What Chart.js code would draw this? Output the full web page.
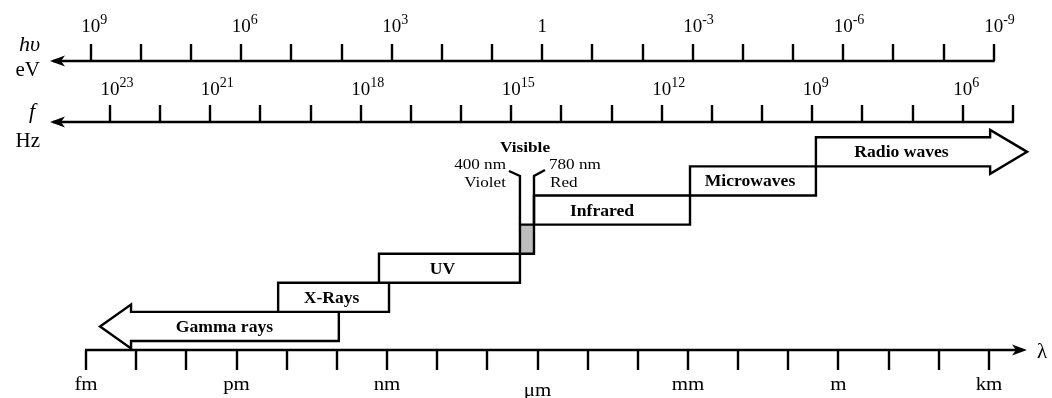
<!DOCTYPE html>
<html><head><meta charset="utf-8">
<script src="https://cdn.jsdelivr.net/npm/chart.js@4.4.1/dist/chart.umd.min.js"></script>
<style>html,body{margin:0;padding:0;background:#fff;}#wrap{width:1052px;height:398px;}</style>
</head><body><div id="wrap"><canvas id="c" width="1052" height="398"></canvas></div>
<script>
// ---------------- data ----------------
const bandNames  = ['Gamma rays', 'X-Rays', 'UV', 'Visible', 'Infrared', 'Microwaves', 'Radio waves'];
const bandLevel  = [0, 1, 2, 3, 4, 5, 6];
// log10(wavelength / m) at the short and long end of each band
const bandFrom   = [-14.72, -11.17, -9.16, -6.35, -6.07, -2.96, -0.45];
const bandTo     = [ -9.96,  -8.96, -6.35, -6.07, -2.96, -0.45,  3.76];
const bandOpen   = ['left', null, null, null, null, null, 'right']; // open-ended bands drawn as arrows
const bandShaded = [false, false, false, true, false, false, false];

const visibleEdgeText = [['400 nm', 'Violet'], ['780 nm', 'Red']];
const visibleTitle = 'Visible';

// wavelength axis (log10 m)
const lambdaTickExp  = [-15,-14,-13,-12,-11,-10,-9,-8,-7,-6,-5,-4,-3,-2,-1,0,1,2,3];
const lambdaLabelExp = [-15, -12, -9, -6, -3, 0, 3];
const lambdaLabels   = ['fm', 'pm', 'nm', 'μm', 'mm', 'm', 'km'];
// photon energy axis (log10 eV)
const energyTickExp  = [9,8,7,6,5,4,3,2,1,0,-1,-2,-3,-4,-5,-6,-7,-8,-9];
const energyLabelExp = [9, 6, 3, 0, -3, -6, -9];
// frequency axis (log10 Hz)
const freqTickExp    = [23,22,21,20,19,18,17,16,15,14,13,12,11,10,9,8,7,6,5];
const freqLabelExp   = [23, 21, 18, 15, 12, 9, 6];

const LOG_HC_EV_M = Math.log10(1.23984e-6);   // lambda = hc / E
const LOG_C_M_S   = Math.log10(2.99792458e8); // lambda = c / f

// ---------------- style / layout ----------------
const SERIF = '"Liberation Serif", "DejaVu Serif", serif';
const labelShiftPx = [5, -2, -7, 0, -10, -3, -20];
const arrowHeadLen = [31, 0, 0, 0, 0, 0, 37];
const arrowHalfH = 22;
const EV_AXIS_Y = 61, F_AXIS_Y = 122, L_AXIS_Y = 350;
const AXIS_ARROW_X = 50, L_ARROW_X = 1027;
const TICK_UP = 17, TICK_DOWN = 20;
const LEADER_TOP = 176;
const LINE_W = 2.4;

function txt(ctx, s, x, y, font, align, sx) {
  ctx.save();
  ctx.font = font; ctx.textAlign = align || 'center'; ctx.textBaseline = 'alphabetic';
  ctx.fillStyle = '#000';
  ctx.translate(x, y); ctx.scale(sx || 1, 1);
  ctx.fillText(s, 0, 0);
  ctx.restore();
}
function powLabel(ctx, exp, x, y) {
  if (exp === 0) { txt(ctx, '1', x, y, '19px ' + SERIF, 'center'); return; }
  ctx.save();
  ctx.font = '19px ' + SERIF;
  const w = ctx.measureText('10').width;
  ctx.restore();
  txt(ctx, '10', x, y, '19px ' + SERIF, 'center');
  txt(ctx, String(exp), x + w / 2, y - 8, '14px ' + SERIF, 'left');
}
function arrowHead(ctx, tipX, y, dir) {
  // dir = -1 points left, +1 points right
  ctx.beginPath();
  ctx.moveTo(tipX, y);
  ctx.lineTo(tipX - dir * 15, y - 5.5);
  ctx.lineTo(tipX - dir * 11, y);
  ctx.lineTo(tipX - dir * 15, y + 5.5);
  ctx.closePath();
  ctx.fill();
}

const spectrumPlugin = {
  id: 'spectrum',
  afterDraw(chart) {
    const ctx = chart.ctx;
    const xs = chart.scales.x, ys = chart.scales.y;
    const X = v => xs.getPixelForValue(v);
    const Y = v => ys.getPixelForValue(v);
    ctx.save();
    ctx.fillStyle = '#000'; ctx.strokeStyle = '#000';
    ctx.lineCap = 'butt'; ctx.lineJoin = 'miter';
    ctx.lineWidth = LINE_W;

    // ---- photon energy axis ----
    const eX = e => X(LOG_HC_EV_M - e);
    ctx.beginPath();
    ctx.moveTo(AXIS_ARROW_X + 3, EV_AXIS_Y);
    ctx.lineTo(eX(energyTickExp[energyTickExp.length - 1]) + 1, EV_AXIS_Y);
    ctx.stroke();
    arrowHead(ctx, AXIS_ARROW_X, EV_AXIS_Y, -1);
    energyTickExp.forEach(e => {
      const x = Math.round(eX(e));
      ctx.beginPath(); ctx.moveTo(x, EV_AXIS_Y - TICK_UP); ctx.lineTo(x, EV_AXIS_Y); ctx.stroke();
    });
    energyLabelExp.forEach(e => powLabel(ctx, e, eX(e), 32));

    // ---- frequency axis ----
    const fX = f => X(LOG_C_M_S - f);
    ctx.beginPath();
    ctx.moveTo(AXIS_ARROW_X + 3, F_AXIS_Y);
    ctx.lineTo(fX(freqTickExp[freqTickExp.length - 1]) + 1, F_AXIS_Y);
    ctx.stroke();
    arrowHead(ctx, AXIS_ARROW_X, F_AXIS_Y, -1);
    freqTickExp.forEach(f => {
      const x = Math.round(fX(f));
      ctx.beginPath(); ctx.moveTo(x, F_AXIS_Y - TICK_UP); ctx.lineTo(x, F_AXIS_Y); ctx.stroke();
    });
    freqLabelExp.forEach(f => powLabel(ctx, f, fX(f), 95));

    // axis names on the left
    txt(ctx, 'hυ', 40, 51, 'italic 20px ' + SERIF, 'right', 1.1);
    txt(ctx, 'eV', 40, 76, '20px ' + SERIF, 'right', 1.05);
    txt(ctx, 'f', 35, 118, 'italic 20px ' + SERIF, 'right', 1.1);
    txt(ctx, 'Hz', 40, 147, '20px ' + SERIF, 'right', 1.05);

    // ---- wavelength axis ----
    ctx.beginPath();
    ctx.moveTo(X(lambdaTickExp[0]) - 1, L_AXIS_Y);
    ctx.lineTo(L_ARROW_X - 5, L_AXIS_Y);
    ctx.stroke();
    arrowHead(ctx, L_ARROW_X, L_AXIS_Y, 1);
    lambdaTickExp.forEach(l => {
      const x = Math.round(X(l));
      ctx.beginPath(); ctx.moveTo(x, L_AXIS_Y); ctx.lineTo(x, L_AXIS_Y + TICK_DOWN); ctx.stroke();
    });
    lambdaLabelExp.forEach((l, i) => {
      const s = lambdaLabels[i];
      txt(ctx, s, X(l), s === 'μm' ? 396 : 390, '19px ' + SERIF, 'center', 1.1);
    });
    txt(ctx, 'λ', 1037, 358, '21px ' + SERIF, 'left');

    // ---- bands ----
    bandNames.forEach((name, i) => {
      const x0 = X(bandFrom[i]), x1 = X(bandTo[i]);
      const yTop = Y(bandLevel[i] + 1), yBot = Y(bandLevel[i]);
      const yc = (yTop + yBot) / 2;
      ctx.beginPath();
      if (bandOpen[i] === 'left') {
        const hb = x0 + arrowHeadLen[i];
        ctx.moveTo(x0, yc);
        ctx.lineTo(hb, yc - arrowHalfH);
        ctx.lineTo(hb, yTop);
        ctx.lineTo(x1, yTop);
        ctx.lineTo(x1, yBot);
        ctx.lineTo(hb, yBot);
        ctx.lineTo(hb, yc + arrowHalfH);
        ctx.closePath();
      } else if (bandOpen[i] === 'right') {
        const hb = x1 - arrowHeadLen[i];
        ctx.moveTo(x0, yTop);
        ctx.lineTo(hb, yTop);
        ctx.lineTo(hb, yc - arrowHalfH);
        ctx.lineTo(x1, yc);
        ctx.lineTo(hb, yc + arrowHalfH);
        ctx.lineTo(hb, yBot);
        ctx.lineTo(x0, yBot);
        ctx.closePath();
      } else {
        ctx.rect(x0, yTop, x1 - x0, yBot - yTop);
      }
      ctx.fillStyle = bandShaded[i] ? '#bdbdbd' : '#fff';
      ctx.fill();
      ctx.stroke();
      if (!bandShaded[i]) {
        txt(ctx, name, (x0 + x1) / 2 + labelShiftPx[i], yc + 5.5, 'bold 16px ' + SERIF, 'center', 1.1);
      }
    });

    // ---- visible-band annotation ----
    const vi = bandShaded.indexOf(true);
    const vx0 = X(bandFrom[vi]), vx1 = X(bandTo[vi]);
    const vTop = Y(bandLevel[vi] + 1);
    ctx.beginPath();
    ctx.moveTo(vx0, vTop); ctx.lineTo(vx0, LEADER_TOP); ctx.lineTo(vx0 - 11, LEADER_TOP - 5);
    ctx.moveTo(vx1, vTop); ctx.lineTo(vx1, LEADER_TOP); ctx.lineTo(vx1 + 11, LEADER_TOP - 6);
    ctx.stroke();
    txt(ctx, visibleTitle, (vx0 + vx1) / 2 - 2, 152, 'bold 15px ' + SERIF, 'center', 1.15);
    txt(ctx, visibleEdgeText[0][0], vx0 - 14, 169, '14.5px ' + SERIF, 'right', 1.18);
    txt(ctx, visibleEdgeText[0][1], vx0 - 14, 187, '14.5px ' + SERIF, 'right', 1.18);
    txt(ctx, visibleEdgeText[1][0], vx1 + 15, 169, '14.5px ' + SERIF, 'left', 1.18);
    txt(ctx, visibleEdgeText[1][1], vx1 + 16, 187, '14.5px ' + SERIF, 'left', 1.18);

    ctx.restore();
  }
};

const PX_PER_DECADE = 903 / 18;
new Chart(document.getElementById('c'), {
  type: 'scatter',
  data: { datasets: [{ data: [], pointRadius: 0 }] },
  options: {
    responsive: false, animation: false, devicePixelRatio: 1,
    layout: { padding: 0 },
    plugins: { legend: { display: false }, tooltip: { enabled: false } },
    scales: {
      x: { type: 'linear', display: false, min: -15 - 86 / PX_PER_DECADE, max: -15 + (1052 - 86) / PX_PER_DECADE },
      y: { type: 'linear', display: false, min: -57 / 29.1, max: 341 / 29.1 }
    }
  },
  plugins: [spectrumPlugin, {
    id: 'bg', beforeDraw(c) { const x = c.ctx; x.save(); x.fillStyle = '#fff'; x.fillRect(0, 0, c.width, c.height); x.restore(); }
  }]
});
</script>
</body></html>
